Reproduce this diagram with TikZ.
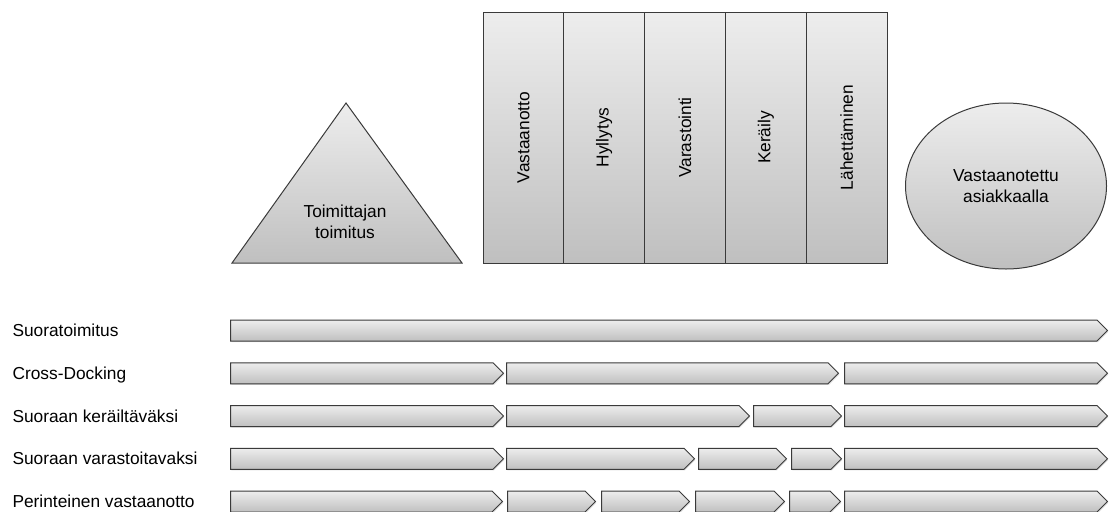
\documentclass[tikz,border=0pt]{standalone}
\usepackage{fontspec}
\setmainfont{Liberation Sans}
\usepackage{graphicx}
\usepackage{tikz}
\usetikzlibrary{shapes, shapes.geometric, shapes.symbols, positioning, shadows}
\usepackage{xcolor}
\definecolor{reuna}{HTML}{3A3A3A}

\begin{document}
\begin{tikzpicture}[x=0.75pt, y=-0.75pt, line width=0.75pt, font=\fontsize{13}{15.5}\selectfont]

\tikzstyle{muoto} = [draw=reuna, top color=gray!14, bottom color=gray!50]
\tikzstyle{vaihe} = [rectangle, muoto, minimum width=60.6pt, minimum height=188.25pt, inner sep=0pt, outer sep=0pt]
\tikzstyle{jakso} = [signal, signal to=east, muoto, minimum height=15.75pt, inner sep=0pt, anchor=west, drop shadow={opacity=0.25, shadow xshift=0.6pt, shadow yshift=-0.9pt}]
\tikzstyle{rivi} = [anchor=west, inner sep=0pt, text height=9.3pt, text depth=0pt]

\useasboundingbox (0,0) rectangle (1109,511);

% toimittaja
\draw [muoto] (232,263) -- (346,103) -- (462,263) -- cycle;
\node (T) at (345,222) [align=center] {Toimittajan\\toimitus};

% varaston vaiheet
\node (V1) [vaihe, anchor=north west] at (483,12) {\rotatebox{90}{Vastaanotto}};
\node (V2) [vaihe, right=0pt of V1] {\rotatebox{90}{Hyllytys}};
\node (V3) [vaihe, right=0pt of V2] {\rotatebox{90}{Varastointi}};
\node (V4) [vaihe, right=0pt of V3] {\rotatebox{90}{Keräily}};
\node (V5) [vaihe, right=0pt of V4] {\rotatebox{90}{Lähettäminen}};

% asiakas
\node (A) [ellipse, muoto, minimum width=150.75pt, minimum height=124.5pt, align=center] at (1006,186) {Vastaanotettu\\asiakkaalla};

% rivien nimet
\node (L1) [rivi] at (12,330.5) {Suoratoimitus};
\node (L2) [rivi] at (12,373.25) {Cross-Docking};
\node (L3) [rivi] at (12,416) {Suoraan keräiltäväksi};
\node (L4) [rivi] at (12,458.75) {Suoraan varastoitavaksi};
\node (L5) [rivi] at (12,501.5) {Perinteinen vastaanotto};

% jaksot
\node (S1a) [jakso, minimum width=657.75pt] at (230,330.5) {};

\node (S2a) [jakso, minimum width=204.75pt] at (230,373.25) {};
\node (S2b) [jakso, minimum width=249pt] at (506,373.25) {};
\node (S2c) [jakso, minimum width=197.25pt] at (844,373.25) {};

\node (S3a) [jakso, minimum width=204.75pt] at (230,416) {};
\node (S3b) [jakso, minimum width=182.25pt] at (506,416) {};
\node (S3c) [jakso, minimum width=66pt] at (753,416) {};
\node (S3d) [jakso, minimum width=197.25pt] at (844,416) {};

\node (S4a) [jakso, minimum width=204.75pt] at (230,458.75) {};
\node (S4b) [jakso, minimum width=141pt] at (506,458.75) {};
\node (S4c) [jakso, minimum width=66pt] at (698,458.75) {};
\node (S4d) [jakso, minimum width=37.5pt] at (791,458.75) {};
\node (S4e) [jakso, minimum width=197.25pt] at (844,458.75) {};

\node (S5a) [jakso, minimum width=204pt] at (230,501.5) {};
\node (S5b) [jakso, minimum width=66pt] at (507,501.5) {};
\node (S5c) [jakso, minimum width=66pt] at (601,501.5) {};
\node (S5d) [jakso, minimum width=66.75pt] at (695,501.5) {};
\node (S5e) [jakso, minimum width=38.25pt] at (789,501.5) {};
\node (S5f) [jakso, minimum width=197.25pt] at (844,501.5) {};

\end{tikzpicture}
\end{document}
